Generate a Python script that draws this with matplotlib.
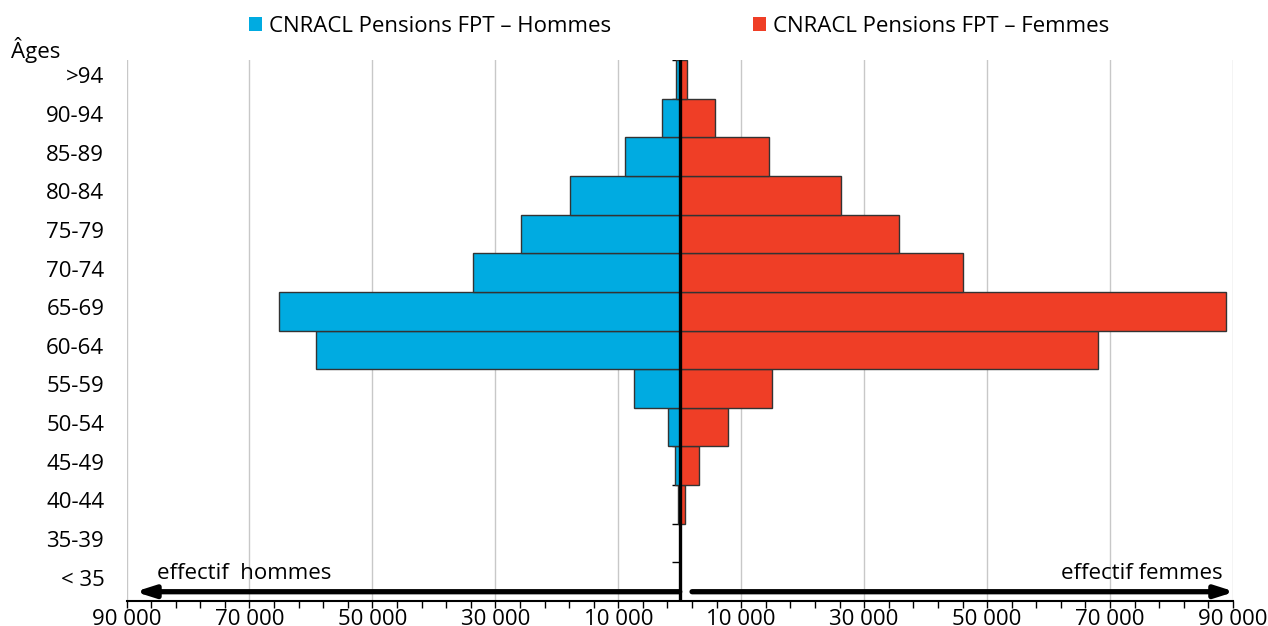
import matplotlib
matplotlib.use("Agg")
import matplotlib.pyplot as plt
import matplotlib.transforms as mtransforms
import numpy as np

plt.rcParams['font.family'] = ['Open Sans', 'DejaVu Sans']

# age groups, bottom to top
ages = ['< 35', '35-39', '40-44', '45-49', '50-54', '55-59', '60-64',
        '65-69', '70-74', '75-79', '80-84', '85-89', '90-94', '>94']
hommes = [0, 0, 300, 750, 1900, 7400, 59200, 65200, 33700, 25900, 17900, 8900, 2900, 600]
femmes = [0, 0, 800, 3150, 7850, 15000, 68000, 88900, 46000, 35600, 26300, 14500, 5700, 1200]

major_ticks = [-90000, -70000, -50000, -30000, -10000, 10000, 30000, 50000, 70000, 90000]
major_labels = ['90 000', '70 000', '50 000', '30 000', '10 000',
                '10 000', '30 000', '50 000', '70 000', '90 000']

blue = '#00ABE1'
red = '#EF3E26'
fs = 16

fig = plt.figure(figsize=(12.68, 6.26), dpi=100)
ax = fig.add_axes([126.5 / 1268, 1 - 601 / 626, (1233 - 126.5) / 1268, (601 - 60) / 626])

y = np.arange(len(ages))
# small category ticks on the zero line
ax.hlines(np.arange(len(ages) + 1) - 0.5, -1300, 0, color='black', lw=1, zorder=1)
ax.barh(y, -np.array(hommes), height=1, color=blue, edgecolor='#333333', lw=1,
        zorder=2, label='CNRACL Pensions FPT – Hommes')
ax.barh(y, femmes, height=1, color=red, edgecolor='#333333', lw=1,
        zorder=2, label='CNRACL Pensions FPT – Femmes')
ax.axvline(0, color='black', lw=2.4, zorder=4)

ax.set_xlim(-90000, 90000)
ax.set_ylim(-0.5, len(ages) - 0.5)

ax.set_xticks(major_ticks)
ax.set_xticklabels(major_labels, fontsize=fs)
ax.set_xticks(np.arange(-90000, 90001, 4000), minor=True)
ax.tick_params(axis='x', which='both', length=5, width=1, direction='out', pad=0.5)
for v in major_ticks:
    ax.axvline(v, color='#c8c8c8', lw=1, zorder=0)

ax.set_yticks(y)
ax.set_yticklabels(ages, fontsize=fs)
ax.tick_params(axis='y', length=0, pad=16)
offset = mtransforms.ScaledTranslation(0, 4 / 100, fig.dpi_scale_trans)
for lab in ax.get_yticklabels():
    lab.set_transform(lab.get_transform() + offset)

for s in ['left', 'right', 'top']:
    ax.spines[s].set_visible(False)
ax.spines['bottom'].set_linewidth(1.5)

# arrows
ya = -0.26
ax.annotate('', xy=(-88600, ya), xytext=(0, ya),
            arrowprops=dict(arrowstyle='-|>,head_length=1.1,head_width=0.35',
                            color='black', lw=3.8, shrinkA=0, shrinkB=0))
ax.annotate('', xy=(90300, ya), xytext=(2000, ya),
            arrowprops=dict(arrowstyle='-|>,head_length=1.1,head_width=0.35',
                            color='black', lw=3.8, shrinkA=0, shrinkB=0),
            annotation_clip=False)
ax.text(-85000, 0.22, 'effectif  hommes', fontsize=fs, ha='left', va='center')
ax.text(88300, 0.22, 'effectif femmes', fontsize=fs, ha='right', va='center')

fig.text(11 / 1268, 1 - 58 / 626, 'Âges', fontsize=fs, ha='left', va='baseline')

ax.legend(loc='center', bbox_to_anchor=(679 / 1268, 1 - 26 / 626), bbox_transform=fig.transFigure,
          ncol=2, frameon=False, fontsize=fs, handlelength=0.6, handleheight=0.6,
          handletextpad=0.3, columnspacing=6.4, borderaxespad=0)
leg = ax.get_legend()
for h in leg.legend_handles:
    h.set_edgecolor('none')

fig.savefig('out.png', dpi=100)
